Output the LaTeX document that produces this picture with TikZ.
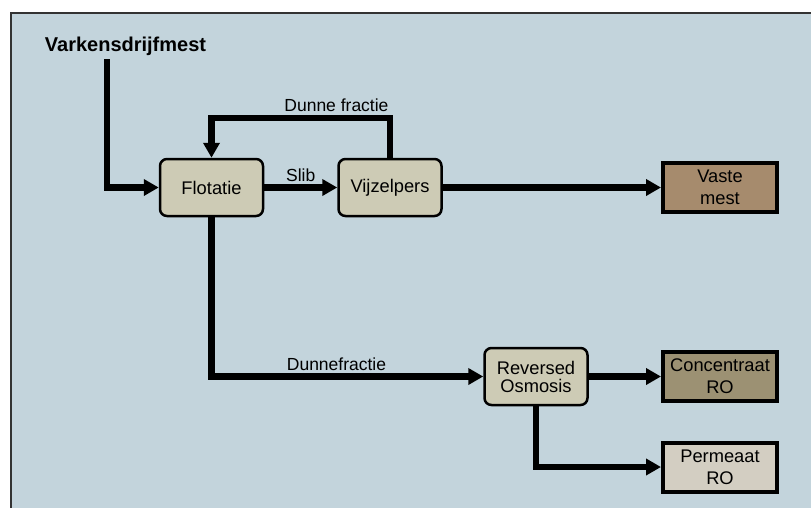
\documentclass[tikz,border=0pt]{standalone}
\usepackage{fontspec}
\setmainfont{Liberation Sans}
\usetikzlibrary{arrows.meta,positioning}
\definecolor{panelbg}{HTML}{C3D4DC}
\definecolor{procfill}{HTML}{CDCBB5}
\definecolor{mestfill}{HTML}{A68B6D}
\definecolor{concfill}{HTML}{9C9173}
\definecolor{permfill}{HTML}{D3CEC2}

\begin{document}
\begin{tikzpicture}[x=1pt,y=-1pt,on grid,
   proc/.style={draw,line width=2.5pt,rounded corners=7pt,fill=procfill,
     minimum width=103pt,minimum height=57pt,align=center,
     font=\fontsize{18.3}{21}\selectfont},
   prod/.style={draw,line width=4pt,minimum width=114pt,minimum height=49pt,
     align=center,font=\fontsize{18.3}{22}\selectfont},
   flow/.style={line width=6.3pt,-{Triangle[length=15pt,width=16pt]}},
   lbl/.style={font=\fontsize{17.5}{21}\selectfont,inner sep=3pt}]
   \useasboundingbox (0,0) rectangle (811,507);
   \fill[panelbg] (11,13) rectangle (820,520);
   \draw[line width=1.5pt,black!80] (11,520) -- (11,13) -- (820,13);

   \node[font=\bfseries\fontsize{20}{23}\selectfont] (title) at (125.5,46) {Varkensdrijfmest};
   \coordinate (feed) at (107,59);

   \node[proc] (flot) at (211.5,187.5) {Flotatie};
   \node[proc] (vijz) [right=178.5pt of flot] {Vijzelpers};
   \node[prod,fill=mestfill] (mest) [right=330pt of vijz] {Vaste\\mest};
   \node[proc] (ro) [below right=189pt and 324.5pt of flot] {Reversed\\[-3pt]Osmosis};
   \node[prod,fill=concfill] (conc) [right=184pt of ro] {Concentraat\\RO};
   \node[prod,fill=permfill] (perm) [below=90.5pt of conc] {Permeaat\\RO};

   \draw[flow] (feed) |- (flot);
   \draw[flow] (flot) -- node[lbl,above] {Slib} (vijz);
   \draw[flow] (vijz.north) -- ++(0,-40) -| node[lbl,above,pos=0.15] {Dunne fractie} (flot.north);
   \draw[flow] (vijz) -- (mest);
   \draw[flow] (flot.south) |- node[lbl,above,pos=0.73] {Dunnefractie} (ro);
   \draw[flow] (ro) -- (conc);
   \draw[flow] (ro.south) |- (perm);
\end{tikzpicture}
\end{document}
